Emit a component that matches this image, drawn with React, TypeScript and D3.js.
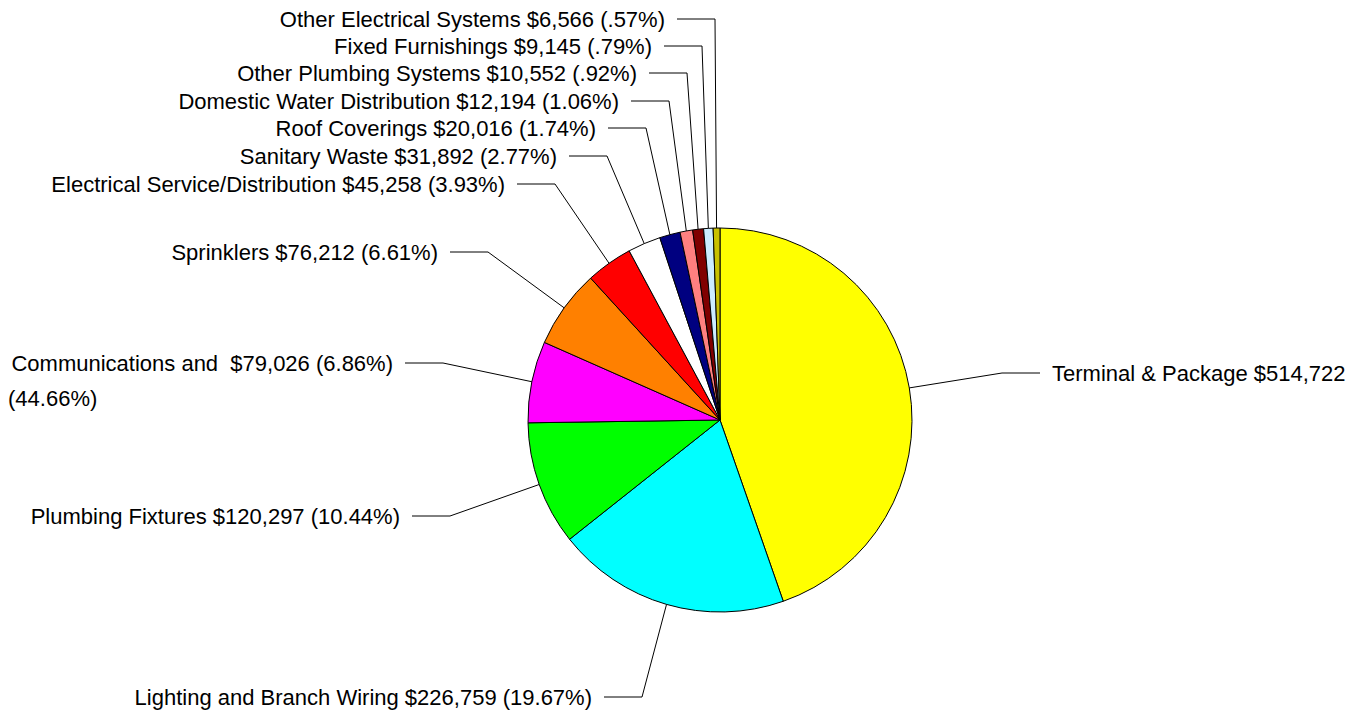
import React from "react";
import * as d3 from "d3";

const categories = [
  "Terminal & Package",
  "Lighting and Branch Wiring",
  "Plumbing Fixtures",
  "Communications and",
  "Sprinklers",
  "Electrical Service/Distribution",
  "Sanitary Waste",
  "Roof Coverings",
  "Domestic Water Distribution",
  "Other Plumbing Systems",
  "Fixed Furnishings",
  "Other Electrical Systems",
];

const values = [514722, 226759, 120297, 79026, 76212, 45258, 31892, 20016, 12194, 10552, 9145, 6566];

const labelLines: string[][] = [
  ["Terminal & Package $514,722"],
  ["Lighting and Branch Wiring $226,759 (19.67%)"],
  ["Plumbing Fixtures $120,297 (10.44%)"],
  ["Communications and  $79,026 (6.86%)", "(44.66%)"],
  ["Sprinklers $76,212 (6.61%)"],
  ["Electrical Service/Distribution $45,258 (3.93%)"],
  ["Sanitary Waste $31,892 (2.77%)"],
  ["Roof Coverings $20,016 (1.74%)"],
  ["Domestic Water Distribution $12,194 (1.06%)"],
  ["Other Plumbing Systems $10,552 (.92%)"],
  ["Fixed Furnishings $9,145 (.79%)"],
  ["Other Electrical Systems $6,566 (.57%)"],
];

const colors = [
  "#FFFF00",
  "#00FFFF",
  "#00FF00",
  "#FF00FF",
  "#FF8000",
  "#FF0000",
  "#FFFFFF",
  "#000080",
  "#FF8080",
  "#800000",
  "#CCECFF",
  "#C8C000",
];

// layout: elbow points of leader lines and label side
const labelLayout = [
  { ex: 1002, ey: 373, side: 1 },
  { ex: 642, ey: 697, side: -1 },
  { ex: 450, ey: 516, side: -1 },
  { ex: 443, ey: 363, side: -1 },
  { ex: 488, ey: 252, side: -1 },
  { ex: 555, ey: 184, side: -1 },
  { ex: 607, ey: 156, side: -1 },
  { ex: 646, ey: 128, side: -1 },
  { ex: 669, ey: 101, side: -1 },
  { ex: 687, ey: 73, side: -1 },
  { ex: 702, ey: 46, side: -1 },
  { ex: 715, ey: 19, side: -1 },
];

const W = 1356;
const H = 713;
const CX = 720;
const CY = 420;
const R = 192;
const HSEG = 38;
const GAP = 12;
const FONT = 22;
const LINE_H = 35;

export default function App() {
  const data = categories.map((c, i) => ({ name: c, value: values[i], i }));
  const pie = d3.pie<any>().sort(null).value((d: any) => d.value);
  const arcs = pie(data);
  const arcGen = d3.arc<any>().innerRadius(0).outerRadius(R);

  return (
    <svg
      width={W}
      height={H}
      style={{ position: "absolute", left: 0, top: 0, background: "#fff" }}
      fontFamily="'Liberation Sans', Arial, Helvetica, sans-serif"
      fontSize={FONT}
    >
      <g transform={`translate(${CX},${CY})`}>
        {arcs.map((a) => (
          <path
            key={a.data.name}
            d={arcGen(a) as string}
            fill={colors[a.data.i]}
            stroke="#000"
            strokeWidth={1}
          />
        ))}
      </g>
      {arcs.map((a) => {
        const i = a.data.i;
        const mid = (a.startAngle + a.endAngle) / 2;
        const px = CX + R * Math.sin(mid);
        const py = CY - R * Math.cos(mid);
        const L = labelLayout[i];
        const hx = L.ex + L.side * HSEG;
        const tx = hx + L.side * GAP;
        return (
          <g key={"l" + i}>
            <polyline
              points={`${px},${py} ${L.ex},${L.ey} ${hx},${L.ey}`}
              fill="none"
              stroke="#000"
              strokeWidth={1}
            />
            {labelLines[i].map((t, k) => (
              <text
                key={k}
                x={k === 0 ? tx : 8}
                y={L.ey + k * LINE_H}
                dy="0.36em"
                textAnchor={k === 0 ? (L.side > 0 ? "start" : "end") : "start"}
                fill="#000"
                style={{ whiteSpace: "pre" }}
              >
                {t}
              </text>
            ))}
          </g>
        );
      })}
    </svg>
  );
}
